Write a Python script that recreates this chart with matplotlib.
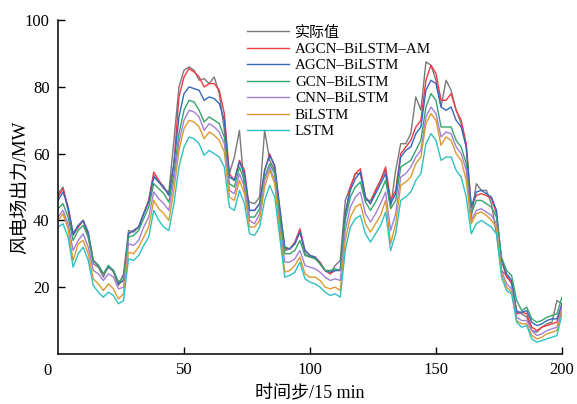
import numpy as np
import matplotlib
matplotlib.use('Agg')
import matplotlib.pyplot as plt

plt.rcParams['font.family'] = ['Liberation Serif', 'Noto Sans CJK SC']
plt.rcParams['mathtext.fontset'] = 'stix'

# time steps (every 2nd step of the 15 min series)
steps = np.arange(0, 201, 2)

actual = [48, 50, 43, 35.5, 38, 40, 35, 27, 26, 23,
          26.5, 24.5, 20.5, 24, 37, 36.5, 38, 42, 46, 53.5,
          51.5, 49.5, 48.5, 64, 80, 85, 86, 85, 82, 82.5,
          81, 83, 78, 67, 54, 59, 67, 49, 45.5, 45,
          47, 67, 58, 55, 40, 31, 31.5, 33, 37, 30,
          29, 29, 27, 25, 24, 26.5, 28, 46, 50, 54,
          54, 46, 46, 49, 52, 55, 44, 55, 63, 63,
          66, 77, 73, 87.5, 86.5, 82, 74, 82, 79, 73,
          69, 62, 41, 51, 49, 49, 45, 36, 25, 23.5,
          21, 13, 12, 11, 7, 6.5, 8, 9, 9.5, 16,
          15]

agcn_bilstm_am = [47, 49.5, 44, 36, 38, 40, 36, 28, 26.5, 24,
                  26, 25, 21, 22, 36, 37, 38, 42, 46, 54.5,
                  52, 50, 47.5, 57, 77, 83, 85.5, 84.5, 83, 80,
                  81, 81, 79, 72, 54, 52, 58, 55, 43, 43,
                  45, 55, 60, 56, 43, 31.5, 31.5, 33.5, 37.5, 31,
                  29.5, 29, 27.5, 25, 24, 25, 25, 42, 50, 54,
                  55.5, 47, 45, 49, 52, 56, 46, 49, 60, 62,
                  64, 68, 70, 82, 86.5, 84, 76, 76, 78, 73,
                  70, 63, 44, 47.5, 48, 47.5, 46.5, 42, 28, 23,
                  21.5, 12, 12.5, 12, 8, 7, 8, 8.5, 9, 9.5,
                  15]

agcn_bilstm = [46, 48.5, 44, 36, 38.5, 40, 36.5, 28, 26.5, 24,
               26, 25, 21, 22, 36, 37, 38, 42, 45.5, 53,
               51.5, 50, 47.5, 57, 71, 78, 80, 79.5, 79, 76,
               77, 76.5, 75, 70, 53, 52, 57.5, 54, 43, 43,
               45, 55, 59.5, 56.5, 44, 32, 31.5, 33, 36.5, 31,
               29.5, 29, 27, 25, 24.5, 25, 25, 42, 49, 52.5,
               54.5, 47, 45, 48, 51, 54, 45, 48, 59, 61,
               62, 66, 68, 79, 82, 81, 74, 73, 74, 70,
               68, 62, 44, 48.5, 49, 48, 47, 43, 28, 24,
               22, 12.5, 12.5, 13, 9.5, 8.5, 9, 10, 10.5, 10.5,
               15]

gcn_bilstm = [43.5, 45, 41, 34, 37, 38.5, 35, 28, 26.5, 24,
              26.5, 25, 21.5, 23, 35, 35.5, 37, 40.5, 44, 51,
              49.5, 48, 45.5, 54, 66, 73, 76, 75.5, 73, 69.5,
              71, 70, 69, 65, 51, 50, 56, 52, 41, 41,
              43.5, 53, 57, 54, 41, 30, 30, 31, 34, 29.5,
              29, 28.5, 27, 25, 25, 25.5, 25, 40, 47, 50,
              51.5, 45.5, 43, 45.5, 48.5, 52, 43.5, 46, 56, 57,
              58, 61, 64, 74, 78, 76, 68, 68, 68, 64,
              62, 57, 42, 46, 46, 45, 44, 41, 29, 25,
              23.5, 16, 13, 14, 10.5, 9.5, 10, 11, 11.5, 12,
              17]

cnn_bilstm = [41, 43, 39, 31, 34, 36, 32, 25, 24, 22,
              24, 23, 19.5, 20, 33, 32.5, 34, 38, 41, 48.5,
              46.5, 45, 43, 52, 63.5, 70, 73, 72.5, 71, 67,
              69, 68, 66.5, 63, 49, 48, 54, 50, 40, 39,
              42, 52, 56, 52, 38, 27.5, 27.5, 28.5, 31, 26.5,
              26, 25.5, 24.5, 23, 22, 22.5, 22, 37, 44, 47,
              48.5, 42, 39.5, 42, 45, 48.5, 37, 42, 53, 54,
              56, 59, 61, 71, 74, 72, 65, 66.5, 66, 62,
              60, 55, 40, 43, 43.5, 42.5, 41.5, 39, 25, 21,
              19.5, 11, 10, 10, 7, 5.5, 6, 7, 7.5, 8,
              14]

bilstm = [40, 42, 37.5, 28, 33, 34, 30, 22.5, 21, 19,
          21, 19.5, 16.5, 18, 30.5, 30, 32, 35, 38, 46,
          43.5, 42, 40, 49, 61, 67.5, 70, 69.5, 68, 64.5,
          66.5, 65.5, 64, 60.5, 47, 46, 52, 48, 38, 38,
          40, 50, 55, 51, 37, 24.5, 25, 26.5, 29, 24,
          23, 23, 22, 20, 19.5, 20, 19, 34, 41, 44,
          45, 39, 36.5, 39, 41.5, 46, 33, 39, 50.5, 51.5,
          53, 57, 59, 69, 72, 70, 62.5, 65, 64, 60,
          58, 52, 39, 42, 42.5, 41.5, 40, 38, 24, 20,
          18.5, 10, 9, 9, 5.5, 4.5, 5, 6, 6.5, 7,
          13]

lstm = [38, 39, 35, 26, 30, 32, 28, 20.5, 18.5, 17,
        18.5, 17.5, 15, 16, 28.5, 28, 29.5, 32.5, 35, 43,
        40, 38, 37, 45, 56, 62, 65, 64.5, 63, 59.5,
        61, 60, 59, 56, 44, 43, 49, 45, 36, 35.5,
        38, 46, 50.5, 47, 35, 23, 23.5, 24.5, 27.5, 22.5,
        21.5, 21, 20, 18.5, 17.5, 18, 17, 31, 38, 40.5,
        41.5, 36, 33.5, 36, 38.5, 42.5, 31, 36, 46, 47,
        48.5, 52, 54, 63, 66, 64, 58, 59, 59, 55,
        53, 47, 36, 39, 40, 39, 38, 36, 23, 19,
        18, 9.5, 8, 8.5, 4.5, 3.5, 4, 4.5, 5, 5.5,
        12]

labels = ['实际值', 'AGCN–BiLSTM–AM', 'AGCN–BiLSTM', 'GCN–BiLSTM',
          'CNN–BiLSTM', 'BiLSTM', 'LSTM']
colors = ['#7a7a7a', '#ee3b46', '#3568c0', '#35a46a', '#a47fd6', '#dc9a2e', '#2fc0c0']
series = [actual, agcn_bilstm_am, agcn_bilstm, gcn_bilstm, cnn_bilstm, bilstm, lstm]

fig = plt.figure(figsize=(5.77, 4.04), dpi=100)
ax = fig.add_axes([0.1005, 0.124, 0.8735, 0.826])

for s, c, lab in zip(series, colors, labels):
    ax.plot(steps, s, color=c, lw=1.0, label=lab)

ax.set_xlim(0, 200)
ax.set_ylim(0, 100)
ax.set_xticks([50, 100, 150, 200])
ax.set_yticks([20, 40, 60, 80, 100])
ax.tick_params(direction='in', length=5, width=1, labelsize=12, pad=6)
ax.annotate('0', xy=(0, 0), xycoords='data', xytext=(-10, -9),
            textcoords='offset pixels', ha='center', va='top', fontsize=12)
for sp in ['top', 'right']:
    ax.spines[sp].set_visible(False)
for sp in ['left', 'bottom']:
    ax.spines[sp].set_linewidth(1.1)

ax.set_xlabel('时间步/15 min', fontsize=13, labelpad=5)
ax.set_ylabel('风电场出力/MW', fontsize=13.5)
ax.yaxis.set_label_coords(-0.056, 0.5)

ax.legend(loc='upper left', bbox_to_anchor=(0.428, 0.937), bbox_transform=fig.transFigure,
          frameon=False, fontsize=10.8, handlelength=2.8, handletextpad=0.4,
          labelspacing=0.2, borderpad=0, borderaxespad=0)

fig.savefig('out.png', dpi=100)
